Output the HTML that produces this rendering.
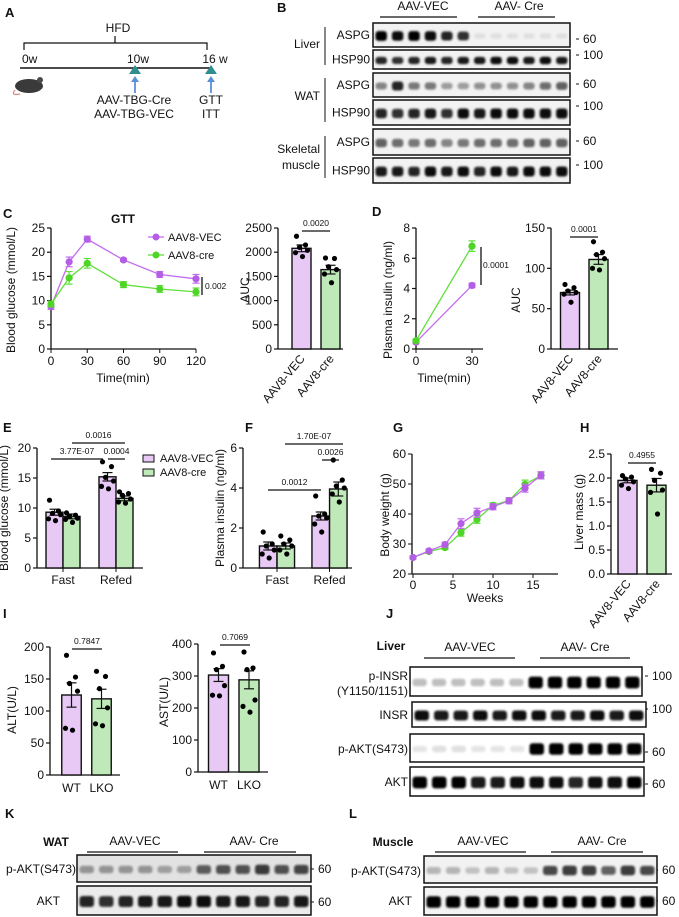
<!DOCTYPE html>
<html><head><meta charset="utf-8"><style>
html,body{margin:0;padding:0;background:#fff;}
svg{display:block;font-family:"Liberation Sans",Arial,sans-serif;}
</style></head><body>
<svg id="fig" width="679" height="917" viewBox="0 0 679 917" xmlns="http://www.w3.org/2000/svg">
<defs><filter id="blur" x="-20%" y="-50%" width="140%" height="200%"><feGaussianBlur stdDeviation="1.1"/></filter></defs>
</svg>
<script>
// ---------- DATA ----------
const gttTime=[0,15,30,60,90,120];
const gttVec=[8.8,18,22.7,18.4,15.4,14.5];
const gttVecErr=[0.6,1,0.6,0.3,0.6,0.9];
const gttCre=[9.3,14.7,17.7,13.3,12.4,11.8];
const gttCreErr=[0.6,1.3,1,0.6,0.7,0.8];
const gttAuc=[2080,1640];
const gttAucErr=[70,90];
const gttAucDotsVec=[2330,2150,2100,2040,1990,1910];
const gttAucDotsCre=[1880,1870,1700,1640,1550,1370];
const insTime=[0,30];
const insVec=[0.45,4.2];
const insVecErr=[0.1,0.15];
const insCre=[0.55,6.8];
const insCreErr=[0.1,0.35];
const insAuc=[70,111];
const insAucErr=[3,6];
const insAucDotsVec=[80,76,72,70,68,58];
const insAucDotsCre=[133,120,117,112,100,98];
const bgGroups=["Fast","Refed"];
const bgVec=[9.3,15.2];
const bgVecErr=[0.5,0.7];
const bgCre=[8.6,11.6];
const bgCreErr=[0.4,0.4];
const bgDotsVec=[[11.3,9.5,9.1,8.9,8.2,7.9],[17.7,16.9,15.1,14.5,13.6,13.2]];
const bgDotsCre=[[9.2,8.8,8.6,8.3,8.1,7.6],[12.7,12.4,12.1,11.5,11.0,10.8]];
const piVec=[1.1,2.6];
const piVecErr=[0.2,0.2];
const piCre=[1.1,3.95];
const piCreErr=[0.15,0.35];
const piDotsVec=[[1.8,1.2,1.1,0.9,0.7,0.5],[3.6,2.7,2.6,2.5,2.2,1.8]];
const piDotsCre=[[1.6,1.4,1.2,1.1,0.9,0.7],[5.4,4.4,4.1,4.0,3.7,3.3]];
const bwWeeks=[0,2,4,6,8,10,12,14,16];
const bwVec=[25.5,27.7,29.8,36.8,40.4,42.4,44.4,48.6,52.9];
const bwVecErr=[0.5,0.6,0.8,1.6,1.5,1.0,1.0,1.3,1.2];
const bwCre=[25.5,27.5,28.8,33.8,38.2,42.9,44.5,49.9,52.8];
const bwCreErr=[0.5,0.6,0.6,1.2,1.3,0.8,0.9,1.4,1.0];
const lmVals=[1.95,1.85];
const lmErr=[0.05,0.14];
const lmDotsVec=[2.05,2.02,1.98,1.92,1.85,1.78];
const lmDotsCre=[2.18,2.1,1.95,1.75,1.7,1.25];
const altVals=[125,119];
const altErr=[19,15];
const altDotsWT=[187,153,143,131,73,70];
const altDotsLKO=[162,154,135,105,80,77];
const astVals=[303,288];
const astErr=[20,28];
const astDotsWT=[372,330,320,270,240,238];
const astDotsLKO=[375,325,320,225,205,187];
// blot intensities (12 lanes)
const bLiverASPG=[1,.95,1,.95,.85,.8,.08,.08,.08,.08,.08,.08];
const bLiverHSP=[.85,.8,.85,.9,.85,.9,.9,.95,.95,.9,.95,.9];
const bWatASPG=[.45,.85,.5,.5,.35,.35,.4,.4,.4,.45,.55,.6];
const bWatHSP=[.85,.8,.85,.9,.8,.95,.9,.95,.95,.95,.95,.95];
const bSkmASPG=[.6,.55,.5,.55,.45,.5,.55,.55,.55,.6,.6,.6];
const bSkmHSP=[.9,.9,.85,.95,.9,.95,.85,.95,.9,.95,.95,.95];
const jPINSR=[.25,.25,.25,.25,.25,.25,1,1,1,1,1,1];
const jINSR=[.95,.9,.9,.95,.9,.95,.95,.9,.9,.95,.9,.95];
const jPAKT=[.1,.12,.12,.1,.1,.1,1,1,1,1,1,1];
const jAKT=[1,1,1,.9,.9,.95,.95,.95,.85,.95,.95,1];
const kPAKT=[.35,.35,.35,.35,.3,.3,.6,.65,.65,.75,.65,.7];
const kAKT=[.85,.8,.85,.9,.9,.95,.95,.9,.9,.85,.85,.9];
const lPAKT=[.25,.25,.2,.25,.2,.2,.7,.75,.75,.6,.75,.7];
const lAKT=[1,1,1,1,1,1,1,1,1,1,1,1];

// ---------- HELPERS ----------
const NS="http://www.w3.org/2000/svg";
const svg=document.getElementById('fig');
const VECF="#e8c9f6",CREF="#bfe9b8",VECL="#c36cf0",CREL="#5fe03a",VECM="#b45ee6",CREM="#4fd428";
function mk(tag,a,p){const e=document.createElementNS(NS,tag);for(const k in a)e.setAttribute(k,a[k]);(p||svg).appendChild(e);return e;}
function txt(s,x,y,a,p){const e=mk('text',Object.assign({x:x,y:y,'font-size':11,fill:'#111'},a||{}),p);e.textContent=s;return e;}
function grp(name){const g=mk('g',{});return g;}
function yAxis(g,x,y0,yTop,vmax,ticks,fmt,fs){
 const ax=mk('line',{x1:x,y1:y0,x2:x,y2:yTop,stroke:'#111','stroke-width':1.3},g);
 
 ticks.forEach(t=>{const y=y0-(t/vmax)*(y0-yTop);
  mk('line',{x1:x-4,y1:y,x2:x,y2:y,stroke:'#111','stroke-width':1.2},g);
  const tl=txt(fmt?fmt(t):String(t),x-6,y+4,{'text-anchor':'end','font-size':fs||12},g);
  });
}
function panelLabel(s,x,y){const t=txt(s,x,y,{'font-weight':'bold','font-size':13});}
function ylabel(s,x,y,g,fs){const t=txt(s,x,y,{'text-anchor':'middle','font-size':fs||12,transform:`rotate(-90 ${x} ${y})`},g);return t;}
function sig(g,label,x1,x2,y,fs){mk('line',{x1:x1,y1:y,x2:x2,y2:y,stroke:'#111','stroke-width':1.3},g);
 const t=txt(label,(x1+x2)/2,y-5,{'text-anchor':'middle','font-size':fs||8.5},g);}
function bar(g,xc,w,v,err,fill,sy,y0,name){
 const y=sy(v);const r=mk('rect',{x:xc-w/2,y:y,width:w,height:y0-y,fill:fill,stroke:'#111','stroke-width':1.4},g);
 
 mk('line',{x1:xc,y1:sy(v+err),x2:xc,y2:sy(v-err),stroke:'#111','stroke-width':1.2},g);
 mk('line',{x1:xc-5,y1:sy(v+err),x2:xc+5,y2:sy(v+err),stroke:'#111','stroke-width':1.2},g);
 mk('line',{x1:xc-5,y1:sy(v-err),x2:xc+5,y2:sy(v-err),stroke:'#111','stroke-width':1.2},g);
}
function dots(g,xc,vals,sy){const off=[-5,4,-2,6,-6,1];vals.forEach((v,i)=>{const d=mk('circle',{cx:xc+off[i%6],cy:sy(v),r:2.6,fill:'#000'},g);});}
function lineSeries(g,xs,vals,errs,sx,sy,lc,mc,name){
 const pts=xs.map((x,i)=>sx(x)+','+sy(vals[i])).join(' ');
 const pl=mk('polyline',{points:pts,fill:'none',stroke:lc,'stroke-width':1.3},g);
 
 xs.forEach((x,i)=>{const X=sx(x);
  mk('line',{x1:X,y1:sy(vals[i]+errs[i]),x2:X,y2:sy(vals[i]-errs[i]),stroke:lc,'stroke-width':1.2},g);
  mk('line',{x1:X-3.5,y1:sy(vals[i]+errs[i]),x2:X+3.5,y2:sy(vals[i]+errs[i]),stroke:lc,'stroke-width':1.2},g);
  mk('line',{x1:X-3.5,y1:sy(vals[i]-errs[i]),x2:X+3.5,y2:sy(vals[i]-errs[i]),stroke:lc,'stroke-width':1.2},g);
  const c=mk('circle',{cx:X,cy:sy(vals[i]),r:3.6,fill:mc},g);});
}
function xAxis(g,x1,x2,y){const l=mk('line',{x1:x1,y1:y,x2:x2,y2:y,stroke:'#111','stroke-width':1.3},g);}
function rotLabel(g,s,x,y){const t=txt(s,x,y,{'text-anchor':'end','font-size':12,transform:`rotate(-50 ${x} ${y})`},g);}
function blot(name,x1,x2,y1,y2,vals,bg){
 const g=grp(name);
 mk('rect',{x:x1,y:y1,width:x2-x1,height:y2-y1,fill:bg||'#f2f2f2',stroke:'#111','stroke-width':1.5},g);
 const n=vals.length,lw=(x2-x1)/n,cy=(y1+y2)/2+1,h=(y2-y1)*0.34;
 vals.forEach((v,i)=>{const b=mk('rect',{x:x1+i*lw+2.5,y:cy-h/2*(0.6+v*0.6),width:lw-5,height:h*(0.6+v*0.6),rx:3,fill:'#000','fill-opacity':v,filter:'url(#blur)'},g);
  });
 return g;
}
function marker(s,x,y,g){mk('line',{x1:x-7,y1:y-4,x2:x-4,y2:y-4,stroke:'#111','stroke-width':1},g);const t=txt(s,x,y,{'font-size':12},g);}
function header(g,lab,cx,lx1,lx2,y){const t=txt(lab,cx,y,{'text-anchor':'middle','font-size':12},g);mk('line',{x1:lx1,y1:y+7,x2:lx2,y2:y+7,stroke:'#111','stroke-width':1.2},g);}

// ---------- A ----------
panelLabel('A',5,17);
(function(){const g=grp('timeline-diagram');
 txt('HFD',118,32,{'text-anchor':'middle','font-size':12},g);
 mk('path',{d:'M24 50 V43 H207 V50 M115 43 V36',fill:'none',stroke:'#111','stroke-width':1.2},g);
 txt('0w',22,63,{'font-size':12},g);txt('10w',138,63,{'text-anchor':'middle','font-size':12},g);txt('16 w',215,63,{'text-anchor':'middle','font-size':12},g);
 mk('line',{x1:20,y1:68,x2:212,y2:68,stroke:'#111','stroke-width':1.5},g);
 [135,211].forEach(x=>{mk('polygon',{points:`${x-6},74 ${x+6},74 ${x},65`,fill:'#2f8f8f'},g);
  mk('line',{x1:x,y1:93,x2:x,y2:80,stroke:'#5b8fd6','stroke-width':1.8},g);
  mk('polygon',{points:`${x-4},82 ${x+4},82 ${x},76`,fill:'#5b8fd6'},g);});
 const m=mk('g',{},g);
 mk('path',{d:'M15 90 Q10 96 20 94',fill:'none',stroke:'#d48a80','stroke-width':1.2},m);
 mk('ellipse',{cx:29,cy:86,rx:14,ry:7,fill:'#3a3a3a'},m);
 mk('circle',{cx:40,cy:80,r:3,fill:'#4a4a4a'},m);
 txt('AAV-TBG-Cre',134,104,{'text-anchor':'middle','font-size':12},g);
 txt('AAV-TBG-VEC',134,118,{'text-anchor':'middle','font-size':12},g);
 txt('GTT',211,104,{'text-anchor':'middle','font-size':12},g);
 txt('ITT',211,118,{'text-anchor':'middle','font-size':12},g);
})();

// ---------- B ----------
panelLabel('B',277,12);
(function(){const g=grp('aspg-western-blot');
 header(g,'AAV-VEC',423,380,457,10);header(g,'AAV- Cre',519,478,555,10);
 const rows=[['ASPG',23,47,bLiverASPG,'60',39],['HSP90',50,69,bLiverHSP,'100',55],['ASPG',73,97,bWatASPG,'60',84],['HSP90',100,125,bWatHSP,'100',106],['ASPG',129,155,bSkmASPG,'60',141],['HSP90',158,183,bSkmHSP,'100',165]];
 rows.forEach(r=>{blot('blot-'+r[0].toLowerCase(),373,570,r[1],r[2],r[3]);
  txt(r[0],370,(r[1]+r[2])/2+4,{'text-anchor':'end','font-size':12},g);marker(r[4],583,r[5]+4,g);});
 [['Liver',48,27,65],['WAT',100,78,122]].forEach(t=>{txt(t[0],320,t[1],{'text-anchor':'end','font-size':12},g);mk('line',{x1:325,y1:t[2],x2:325,y2:t[3],stroke:'#111','stroke-width':1},g);});
 txt('Skeletal',320,153,{'text-anchor':'end','font-size':12},g);txt('muscle',320,169,{'text-anchor':'end','font-size':12},g);
 mk('line',{x1:325,y1:136,x2:325,y2:178,stroke:'#111','stroke-width':1},g);
})();

// ---------- C ----------
panelLabel('C',3,218);
(function(){const g=grp('gtt-line-chart');
 const x0=51,x1=196,y0=349,yT=228;
 const sx=t=>x0+t/120*(x1-x0), sy=v=>y0-v/25*(y0-yT);
 yAxis(g,x0,y0,yT,25,[0,5,10,15,20,25]);xAxis(g,x0,x1,y0);
 gttTime.filter(t=>t%30===0).forEach(t=>{mk('line',{x1:sx(t),y1:y0,x2:sx(t),y2:y0+4,stroke:'#111'},g);txt(String(t),sx(t),y0+16,{'text-anchor':'middle','font-size':12},g);});
 txt('Time(min)',123,382,{'text-anchor':'middle','font-size':12},g);
 ylabel('Blood glucose (mmol/L)',15,290,g);
 txt('GTT',123,223,{'text-anchor':'middle','font-weight':'bold','font-size':12},g);
 lineSeries(g,gttTime,gttVec,gttVecErr,sx,sy,VECL,VECM,'vec');
 lineSeries(g,gttTime,gttCre,gttCreErr,sx,sy,CREL,CREM,'cre');
 const lg=mk('g',{},g);
 mk('line',{x1:148,y1:237,x2:164,y2:237,stroke:VECL,'stroke-width':1.3},lg);mk('circle',{cx:156,cy:237,r:3.5,fill:VECM},lg);txt('AAV8-VEC',168,241,{'font-size':11},lg);
 mk('line',{x1:148,y1:255,x2:164,y2:255,stroke:CREL,'stroke-width':1.3},lg);mk('circle',{cx:156,cy:255,r:3.5,fill:CREM},lg);txt('AAV8-cre',168,259,{'font-size':11},lg);
 mk('line',{x1:202,y1:277,x2:202,y2:295,stroke:'#111','stroke-width':1.3},g);txt('0.002',205,289,{'font-size':8.5},g);
})();
(function(){const g=grp('gtt-auc-bar-chart');
 const x0=278,y0=349,yT=228,sy=v=>y0-v/2500*(y0-yT);
 yAxis(g,x0,y0,yT,2500,[0,500,1000,1500,2000,2500]);xAxis(g,x0,343,y0);
 const xs=[301.5,330.5];
 bar(g,xs[0],19,gttAuc[0],gttAucErr[0],VECF,sy,y0,'bar-vec');bar(g,xs[1],19,gttAuc[1],gttAucErr[1],CREF,sy,y0,'bar-cre');
 dots(g,xs[0],gttAucDotsVec,sy);dots(g,xs[1],gttAucDotsCre,sy);
 sig(g,'0.0020',302,330,231);ylabel('AUC',249,290,g);
 rotLabel(g,'AAV8-VEC',xs[0]+4,y0+10);rotLabel(g,'AAV8-cre',xs[1]+4,y0+10);
})();

// ---------- D ----------
panelLabel('D',372,216);
(function(){const g=grp('insulin-line-chart');
 const x0=416,x1=472,y0=349,yT=228,sx=t=>x0+t/30*(x1-x0),sy=v=>y0-v/8*(y0-yT);
 yAxis(g,x0,y0,yT,8,[0,2,4,6,8]);xAxis(g,x0,483,y0);
 insTime.forEach(t=>{mk('line',{x1:sx(t),y1:y0,x2:sx(t),y2:y0+4,stroke:'#111'},g);txt(String(t),sx(t),y0+16,{'text-anchor':'middle','font-size':12},g);});
 txt('Time(min)',444,382,{'text-anchor':'middle','font-size':12},g);
 ylabel('Plasma insulin (ng/ml)',392,300,g);
 lineSeries(g,insTime,insVec,insVecErr,sx,sy,VECL,VECM,'vec');lineSeries(g,insTime,insCre,insCreErr,sx,sy,CREL,CREM,'cre');
 mk('line',{x1:481,y1:247,x2:481,y2:285,stroke:'#111','stroke-width':1.3},g);txt('0.0001',483,268,{'font-size':8.5},g);
})();
(function(){const g=grp('insulin-auc-bar-chart');
 const x0=551,y0=349,yT=228,sy=v=>y0-v/150*(y0-yT);
 yAxis(g,x0,y0,yT,150,[0,50,100,150]);xAxis(g,x0,618,y0);
 const xs=[570,598.5];
 bar(g,xs[0],19,insAuc[0],insAucErr[0],VECF,sy,y0,'bar-vec');bar(g,xs[1],19,insAuc[1],insAucErr[1],CREF,sy,y0,'bar-cre');
 dots(g,xs[0],insAucDotsVec,sy);dots(g,xs[1],insAucDotsCre,sy);
 sig(g,'0.0001',570,598,237);ylabel('AUC',520,300,g);
 rotLabel(g,'AAV8-VEC',xs[0]+4,y0+10);rotLabel(g,'AAV8-cre',xs[1]+4,y0+10);
})();

// ---------- E ----------
panelLabel('E',3,432);
(function(){const g=grp('blood-glucose-bar-chart');
 const x0=37,y0=568,yT=448,sy=v=>y0-v/20*(y0-yT);
 yAxis(g,x0,y0,yT,20,[0,5,10,15,20]);xAxis(g,x0,143,y0);
 bgGroups.forEach((lab,i)=>{const c=63+i*53;
  bar(g,c-8.5,17,bgVec[i],bgVecErr[i],VECF,sy,y0,'bar-vec-'+lab.toLowerCase());bar(g,c+8.5,17,bgCre[i],bgCreErr[i],CREF,sy,y0,'bar-cre-'+lab.toLowerCase());
  dots(g,c-8.5,bgDotsVec[i],sy);dots(g,c+8.5,bgDotsCre[i],sy);
  mk('line',{x1:c,y1:y0,x2:c,y2:y0+4,stroke:'#111'},g);
  txt(lab,c,y0+16,{'text-anchor':'middle','font-size':12},g);});
 ylabel('Blood glucose (mmol/L)',8,508,g);
 sig(g,'0.0016',72,125,443);sig(g,'3.77E-07',51,103,459);sig(g,'0.0004',108,125,459);
 const lg=mk('g',{},g);
 mk('rect',{x:143,y:455,width:11,height:7,fill:VECF,stroke:'#111'},lg);txt('AAV8-VEC',160,462,{'font-size':11},lg);
 mk('rect',{x:143,y:469,width:11,height:7,fill:CREF,stroke:'#111'},lg);txt('AAV8-cre',160,476,{'font-size':11},lg);
})();

// ---------- F ----------
panelLabel('F',245,432);
(function(){const g=grp('plasma-insulin-bar-chart');
 const x0=243,y0=568,yT=448,sy=v=>y0-v/6*(y0-yT);
 yAxis(g,x0,y0,yT,6,[0,2,4,6]);xAxis(g,x0,352,y0);
 bgGroups.forEach((lab,i)=>{const c=277+i*52.5;
  bar(g,c-8.8,17.5,piVec[i],piVecErr[i],VECF,sy,y0,'bar-vec-'+lab.toLowerCase());bar(g,c+8.8,17.5,piCre[i],piCreErr[i],CREF,sy,y0,'bar-cre-'+lab.toLowerCase());
  dots(g,c-8.8,piDotsVec[i],sy);dots(g,c+8.8,piDotsCre[i],sy);
  mk('line',{x1:c,y1:y0,x2:c,y2:y0+4,stroke:'#111'},g);
  txt(lab,c,y0+16,{'text-anchor':'middle','font-size':12},g);});
 ylabel('Plasma insulin (ng/ml)',224,508,g);
 sig(g,'1.70E-07',285,343,444);sig(g,'0.0026',322,339,460);sig(g,'0.0012',268,321,490);
})();

// ---------- G ----------
panelLabel('G',393,432);
(function(){const g=grp('body-weight-line-chart');
 const x0=412,y0=574,yT=454,sx=w=>413+w*8,sy=v=>y0-(v-20)/40*(y0-yT);
 [20,30,40,50,60].forEach(t=>{const y=sy(t);mk('line',{x1:x0-4,y1:y,x2:x0,y2:y,stroke:'#111'},g);txt(String(t),x0-6,y+4,{'text-anchor':'end','font-size':12},g);});
 mk('line',{x1:x0,y1:y0,x2:x0,y2:yT,stroke:'#111','stroke-width':1.3},g);xAxis(g,x0,558,y0);
 [0,5,10,15].forEach(w=>{mk('line',{x1:sx(w),y1:y0,x2:sx(w),y2:y0+4,stroke:'#111'},g);txt(String(w),sx(w),y0+15,{'text-anchor':'middle','font-size':12},g);});
 txt('Weeks',485,602,{'text-anchor':'middle','font-size':12},g);
 ylabel('Body weight (g)',389,515,g);
 lineSeries(g,bwWeeks,bwCre,bwCreErr,sx,sy,CREL,CREM,'cre');
 lineSeries(g,bwWeeks,bwVec,bwVecErr,sx,sy,VECL,VECM,'vec');
})();

// ---------- H ----------
panelLabel('H',580,432);
(function(){const g=grp('liver-mass-bar-chart');
 const x0=611,y0=574,yT=454,sy=v=>y0-v/2.5*(y0-yT);
 yAxis(g,x0,y0,yT,2.5,[0,0.5,1,1.5,2,2.5],t=>t.toFixed(1));xAxis(g,x0,672,y0);
 const xs=[627.5,656.5];
 bar(g,xs[0],19,lmVals[0],lmErr[0],VECF,sy,y0,'bar-vec');bar(g,xs[1],19,lmVals[1],lmErr[1],CREF,sy,y0,'bar-cre');
 dots(g,xs[0],lmDotsVec,sy);dots(g,xs[1],lmDotsCre,sy);
 sig(g,'0.4955',628,656,463);ylabel('Liver mass (g)',583,512,g);
 rotLabel(g,'AAV8-VEC',xs[0]+4,y0+10);rotLabel(g,'AAV8-cre',xs[1]+4,y0+10);
})();

// ---------- I ----------
panelLabel('I',3,618);
(function(){const g=grp('alt-bar-chart');
 const x0=50,y0=775,yT=647,sy=v=>y0-v/200*(y0-yT);
 yAxis(g,x0,y0,yT,200,[0,50,100,150,200]);xAxis(g,x0,120,y0);
 const xs=[71.5,101.5];
 bar(g,xs[0],19.5,altVals[0],altErr[0],VECF,sy,y0,'bar-wt');bar(g,xs[1],19.5,altVals[1],altErr[1],CREF,sy,y0,'bar-lko');
 dots(g,xs[0],altDotsWT,sy);dots(g,xs[1],altDotsLKO,sy);
 sig(g,'0.7847',72,102,649);ylabel('ALT(U/L)',16,710,g);
 txt('WT',xs[0],792,{'text-anchor':'middle','font-size':12},g);txt('LKO',xs[1],792,{'text-anchor':'middle','font-size':12},g);
})();
(function(){const g=grp('ast-bar-chart');
 const x0=198,y0=772,yT=644,sy=v=>y0-v/400*(y0-yT);
 yAxis(g,x0,y0,yT,400,[0,100,200,300,400]);xAxis(g,x0,268,y0);
 const xs=[218.5,249];
 bar(g,xs[0],20,astVals[0],astErr[0],VECF,sy,y0,'bar-wt');bar(g,xs[1],20,astVals[1],astErr[1],CREF,sy,y0,'bar-lko');
 dots(g,xs[0],astDotsWT,sy);dots(g,xs[1],astDotsLKO,sy);
 sig(g,'0.7069',220,250,645);ylabel('AST(U/L)',168,702,g);
 txt('WT',xs[0],789,{'text-anchor':'middle','font-size':12},g);txt('LKO',xs[1],789,{'text-anchor':'middle','font-size':12},g);
})();

// ---------- J ----------
panelLabel('J',386,618);
(function(){const g=grp('liver-insulin-signaling-blot');
 txt('Liver',391,650,{'text-anchor':'middle','font-weight':'bold','font-size':12},g);
 header(g,'AAV-VEC',470,424,515,651);header(g,'AAV- Cre',585,540,630,651);
 blot('blot-p-insr',410,642,667,696,jPINSR,'#ffffff');blot('blot-insr',412,646,702,727,jINSR,'#ffffff');
 blot('blot-p-akt',410,644,734,762,jPAKT,'#ffffff');blot('blot-akt',410,644,767,796,jAKT,'#ffffff');
 txt('p-INSR',408,680,{'text-anchor':'end','font-size':12},g);txt('(Y1150/1151)',408,695,{'text-anchor':'end','font-size':12},g);
 txt('INSR',408,719,{'text-anchor':'end','font-size':12},g);txt('p-AKT(S473)',408,753,{'text-anchor':'end','font-size':12},g);txt('AKT',408,786,{'text-anchor':'end','font-size':12},g);
 marker('100',652,680,g);marker('100',652,713,g);marker('60',652,756,g);marker('60',652,788,g);
})();

// ---------- K ----------
panelLabel('K',5,818);
(function(){const g=grp('wat-akt-blot');
 txt('WAT',56,846,{'text-anchor':'middle','font-weight':'bold','font-size':12},g);
 header(g,'AAV-VEC',135,87,178,845);header(g,'AAV- Cre',254,204,296,845);
 blot('blot-p-akt',77,311,855,882,kPAKT,'#e2e2e2');blot('blot-akt',77,311,886,915,kAKT,'#ececec');
 txt('p-AKT(S473)',76,873,{'text-anchor':'end','font-size':12},g);txt('AKT',60,905,{'text-anchor':'end','font-size':12},g);
 marker('60',318,873,g);marker('60',318,906,g);
})();

// ---------- L ----------
panelLabel('L',349,818);
(function(){const g=grp('muscle-akt-blot');
 txt('Muscle',393,846,{'text-anchor':'middle','font-weight':'bold','font-size':12},g);
 header(g,'AAV-VEC',483,435,526,845);header(g,'AAV- Cre',602,551,643,845);
 blot('blot-p-akt',424,657,856,883,lPAKT,'#f2f2f2');blot('blot-akt',424,657,887,915,lAKT,'#f4f4f4');
 txt('p-AKT(S473)',421,875,{'text-anchor':'end','font-size':12},g);txt('AKT',412,905,{'text-anchor':'end','font-size':12},g);
 marker('60',662,874,g);marker('60',662,905,g);
})();
</script>
</body></html>
